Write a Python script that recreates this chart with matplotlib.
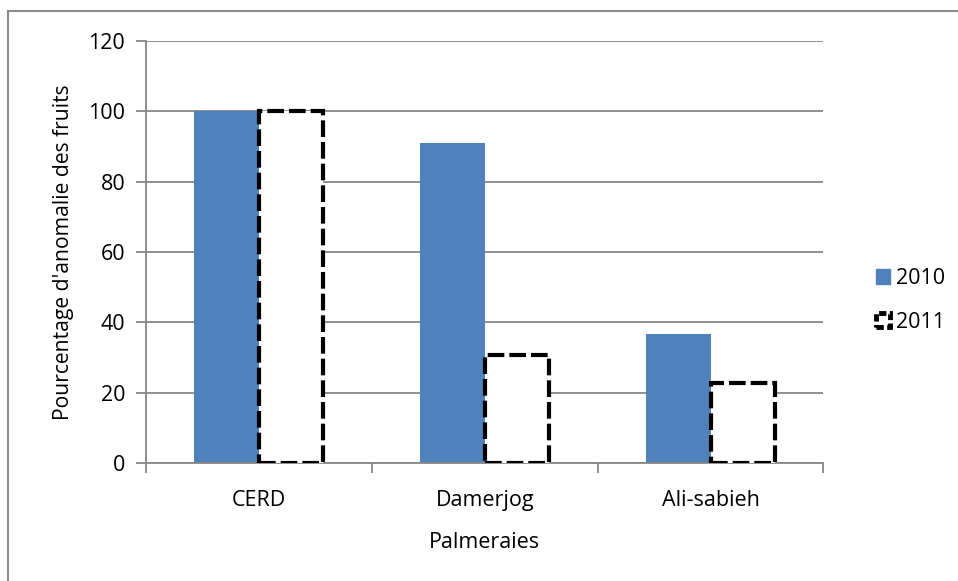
import matplotlib.pyplot as plt
from matplotlib.patches import Patch
from matplotlib.lines import Line2D
import numpy as np

# --- data ---
palmeraies = ['CERD', 'Damerjog', 'Ali-sabieh']
anomalie_2010 = [100, 91, 36.8]
anomalie_2011 = [100, 30.7, 22.8]
yticks = [0, 20, 40, 60, 80, 100, 120]

plt.rcParams['font.family'] = ['Open Sans', 'DejaVu Sans']
grey = '#878787'
blue = '#4F81BD'

fig = plt.figure(figsize=(9.58, 5.81), dpi=100)
ax = fig.add_axes([0.1524, 0.2026, 0.7072, 0.7274])

x = np.arange(len(palmeraies))
w = 1 / 3.5  # excel gap width 150%

ax.bar(x - w / 2, anomalie_2010, w, color=blue, zorder=2)
ax.bar(x + w / 2, anomalie_2011, w, facecolor='white', edgecolor='black',
       linewidth=3, linestyle=(0, (4, 1.2)), zorder=3)

ax.set_xlim(-0.5, 2.5)
ax.set_ylim(0, 120)
ax.set_yticks(yticks)
ax.yaxis.grid(True, color=grey, linewidth=1.3, zorder=0)
ax.set_axisbelow(True)

# category boundaries as ticks, names centred between them
ax.set_xticks([-0.5, 0.5, 1.5, 2.5])
ax.set_xticklabels([])
ax.set_xticks(x, minor=True)
ax.set_xticklabels(palmeraies, minor=True)
ax.tick_params(axis='x', which='minor', length=0, pad=19, labelsize=15.5)
ax.tick_params(axis='x', which='major', length=7, width=1.3, color=grey)
ax.tick_params(axis='y', length=7, width=1.3, color=grey, labelsize=15.5, pad=8)

for side in ['top', 'right']:
    ax.spines[side].set_visible(False)
for side in ['left', 'bottom']:
    ax.spines[side].set_color(grey)
    ax.spines[side].set_linewidth(1.3)

ax.set_xlabel('Palmeraies', fontsize=15.5, labelpad=15)
ax.set_ylabel("Pourcentage d'anomalie des fruits", fontsize=15.2, labelpad=10)

handles = [Patch(facecolor=blue, edgecolor=blue, label='2010'),
           Patch(facecolor='white', edgecolor='black', linewidth=3.5,
                 linestyle=(0, (1.5, 0.7)), label='2011')]
fig.legend(handles=handles, loc='center left', bbox_to_anchor=(0.894, 0.483),
           frameon=False, fontsize=15.5, handlelength=0.65, handleheight=0.65,
           handletextpad=0.3, labelspacing=1.05)

# outer chart frame (top and left edges)
fig.add_artist(Line2D([0.0084, 0.0084], [0, 1 - 11 / 581], color='#8c8c8c', linewidth=1.5,
                      transform=fig.transFigure))
fig.add_artist(Line2D([0.0084, 1], [1 - 11 / 581, 1 - 11 / 581], color='#8c8c8c', linewidth=1.5,
                      transform=fig.transFigure))

fig.savefig('out.png', dpi=100)
